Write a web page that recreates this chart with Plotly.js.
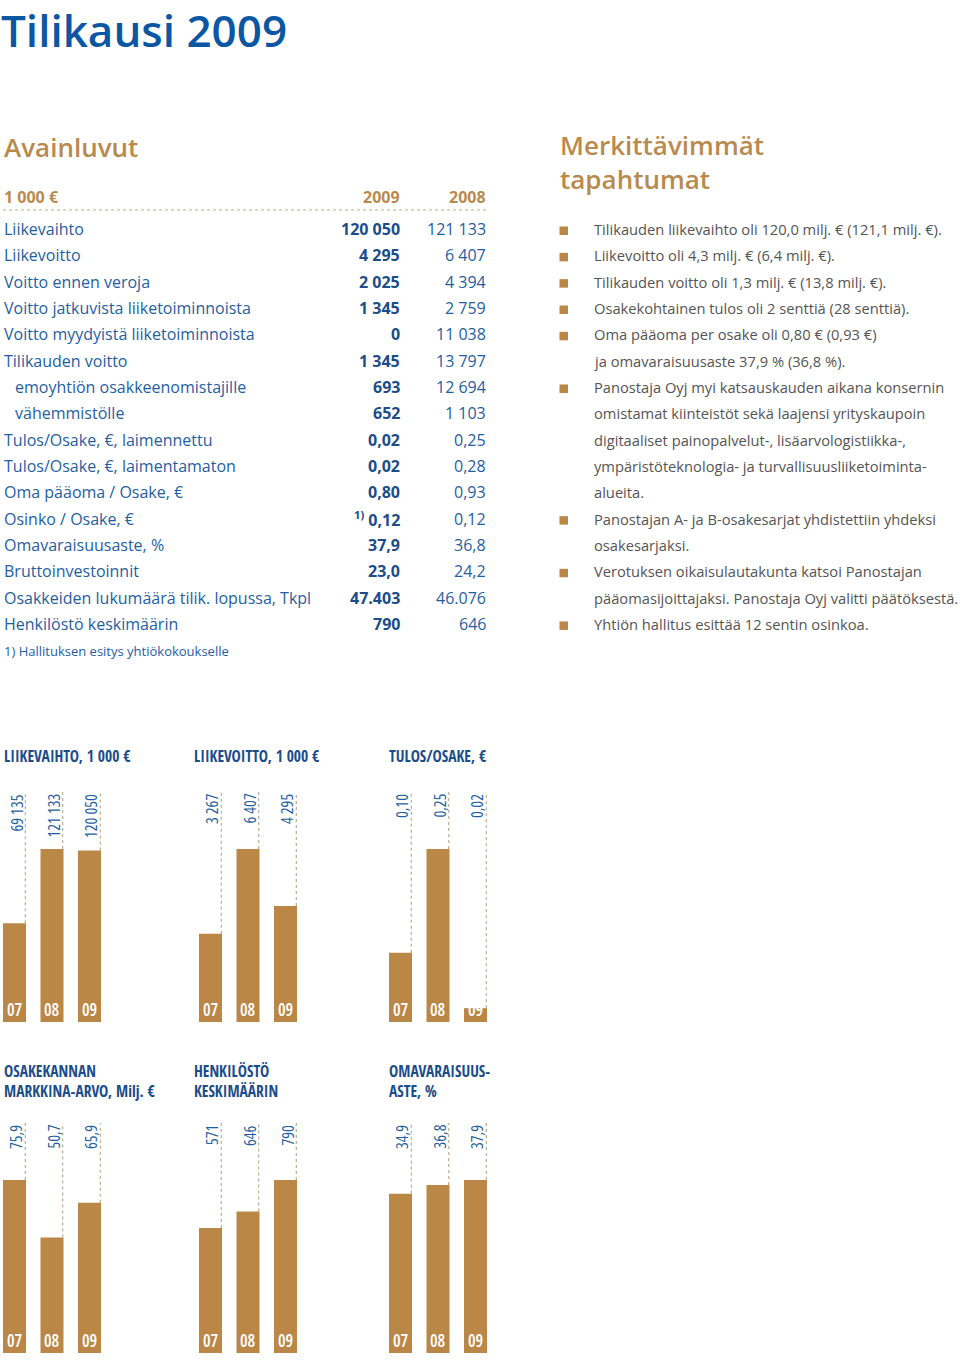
<!DOCTYPE html>
<html><head><meta charset="utf-8">
<script src="https://cdn.plot.ly/plotly-3.0.1.min.js"></script>
<style>
html,body{margin:0;padding:0;background:#fff}#chart{width:960px;height:1361px}
text[style*="Condensed"]{font-stretch:75% !important;}
</style>
</head><body><div id="chart"></div>
<script>
// ---------- DATA ----------
const pageTitle = 'Tilikausi 2009';
const tableHeading = 'Avainluvut';
const eventsHeading = 'Merkittävimmät<br>tapahtumat';
const tableUnit = '1 000 €';
const tableYears = ['2009', '2008'];
const rowLabels = [
  'Liikevaihto', 'Liikevoitto', 'Voitto ennen veroja', 'Voitto jatkuvista liiketoiminnoista',
  'Voitto myydyistä liiketoiminnoista', 'Tilikauden voitto', 'emoyhtiön osakkeenomistajille',
  'vähemmistölle', 'Tulos/Osake, €, laimennettu', 'Tulos/Osake, €, laimentamaton',
  'Oma pääoma / Osake, €', 'Osinko / Osake, €', 'Omavaraisuusaste, %', 'Bruttoinvestoinnit',
  'Osakkeiden lukumäärä tilik. lopussa, Tkpl', 'Henkilöstö keskimäärin'
];
const rowIndent = [0,0,0,0,0,0,1,1,0,0,0,0,0,0,0,0];
const values2009 = ['120 050','4 295','2 025','1 345','0','1 345','693','652','0,02','0,02','0,80','<sup>1)</sup> 0,12','37,9','23,0','47.403','790'];
const values2008 = ['121 133','6 407','4 394','2 759','11 038','13 797','12 694','1 103','0,25','0,28','0,93','0,12','36,8','24,2','46.076','646'];
const footnote = '1) Hallituksen esitys yhtiökokoukselle';
const eventLines = [
  'Tilikauden liikevaihto oli 120,0 milj. € (121,1 milj. €).',
  'Liikevoitto oli 4,3 milj. € (6,4 milj. €).',
  'Tilikauden voitto oli 1,3 milj. € (13,8 milj. €).',
  'Osakekohtainen tulos oli 2 senttiä (28 senttiä).',
  'Oma pääoma per osake oli 0,80 € (0,93 €)',
  'ja omavaraisuusaste 37,9 % (36,8 %).',
  'Panostaja Oyj myi katsauskauden aikana konsernin',
  'omistamat kiinteistöt sekä laajensi yrityskaupoin',
  'digitaaliset painopalvelut-, lisäarvologistiikka-,',
  'ympäristöteknologia- ja turvallisuusliiketoiminta-',
  'alueita.',
  'Panostajan A- ja B-osakesarjat yhdistettiin yhdeksi',
  'osakesarjaksi.',
  'Verotuksen oikaisulautakunta katsoi Panostajan',
  'pääomasijoittajaksi. Panostaja Oyj valitti päätöksestä.',
  'Yhtiön hallitus esittää 12 sentin osinkoa.'
];
const eventBullet = [1,1,1,1,1,0,1,0,0,0,0,1,0,1,0,1];

const years = ['07', '08', '09'];
const chartTitles = [
  'LIIKEVAIHTO, 1 000 €', 'LIIKEVOITTO, 1 000 €', 'TULOS/OSAKE, €',
  'OSAKEKANNAN<br>MARKKINA-ARVO, Milj. €', 'HENKILÖSTÖ<br>KESKIMÄÄRIN', 'OMAVARAISUUS-<br>ASTE, %'
];
const liikevaihto = [69135, 121133, 120050];
const liikevoitto = [3267, 6407, 4295];
const tulosOsake = [0.10, 0.25, 0.02];
const markkinaArvo = [75.9, 50.7, 65.9];
const henkilosto = [571, 646, 790];
const omavaraisuus = [34.9, 36.8, 37.9];
const chartSeries = [liikevaihto, liikevoitto, tulosOsake, markkinaArvo, henkilosto, omavaraisuus];
const chartDecimals = [0, 0, 2, 1, 0, 1];

// ---------- STYLE / LAYOUT ----------
const W = 960, H = 1361;
const px = x => x / W, py = y => 1 - y / H;
const MAIN = "'Open Sans','Noto Sans',sans-serif";
const COND = "'Open Sans Condensed','Open Sans',sans-serif";
const COND_REG = "'Open Sans','Noto Sans','xCondensed',sans-serif";
const BLUE_T = '#0b57a3', BLUE = '#1f60a2', BLUE_D = '#1a4d8a', GOLD = '#bb8747', GOLD_T = '#b98a4e', GRAY = '#555555';

function fmt(v, dec) {
  const s = v.toFixed(dec).split('.');
  const intPart = s[0].replace(/\B(?=(\d{3})+(?!\d))/g, ' ');
  return s.length > 1 ? intPart + ',' + s[1] : intPart;
}

const annotations = [], shapes = [], traces = [];
const layout = {
  width: W, height: H, margin: {l: 0, r: 0, t: 0, b: 0},
  paper_bgcolor: '#fff', plot_bgcolor: 'rgba(0,0,0,0)', showlegend: false,
  annotations, shapes
};
function txt(x, y, text, opts) {
  annotations.push(Object.assign({
    xref: 'paper', yref: 'paper', x: px(x), y: py(y), text, showarrow: false,
    xanchor: 'left', yanchor: 'middle', align: 'left', font: {family: MAIN, size: 16, color: BLUE}
  }, opts || {}));
}

// Page title and headings
txt(1, 0, pageTitle, {yanchor: 'top', borderpad: 0, borderwidth: 0, font: {family: MAIN, size: 44, color: BLUE_T, weight: 600}});
txt(2, 147, tableHeading, {font: {family: MAIN, size: 26, color: GOLD_T, weight: 600}});
txt(558, 162, eventsHeading, {font: {family: MAIN, size: 26, color: GOLD_T, weight: 600}});

// Table header
txt(2, 197, tableUnit, {font: {family: MAIN, size: 16, color: GOLD_T, weight: 700}});
txt(402, 197, tableYears[0], {xanchor: 'right', font: {family: MAIN, size: 16, color: GOLD_T, weight: 700}});
txt(488, 197, tableYears[1], {xanchor: 'right', font: {family: MAIN, size: 16, color: GOLD_T, weight: 700}});
shapes.push({type: 'line', xref: 'paper', yref: 'paper', x0: px(3), x1: px(487), y0: py(210), y1: py(210),
  line: {color: '#c9a577', width: 1, dash: 'dot'}});

const ROW0 = 229, ROWSTEP = 26.33;
rowLabels.forEach((lab, i) => {
  const y = ROW0 + i * ROWSTEP;
  txt(2 + rowIndent[i] * 11, y, lab, {font: {family: MAIN, size: 16, color: BLUE}});
  txt(402, y, values2009[i], {xanchor: 'right', font: {family: MAIN, size: 16, color: BLUE_D, weight: 700}});
  txt(488, y, values2008[i], {xanchor: 'right', font: {family: MAIN, size: 16, color: BLUE}});
});
txt(2, 651, footnote, {font: {family: MAIN, size: 13, color: BLUE}});

eventLines.forEach((t, i) => {
  const y = ROW0 + i * ROWSTEP;
  txt(592, y, t, {font: {family: MAIN, size: 14.7, color: GRAY}});
  if (eventBullet[i]) shapes.push({type: 'rect', xref: 'paper', yref: 'paper',
    x0: px(559.5), x1: px(568), y0: py(y + 6), y1: py(y - 2.5), fillcolor: GOLD, line: {width: 0}});
});

// Small bar charts
const COL_X = [0, 190, 385], FIRST_BAR = [14.5, 20.5, 15.5], PERIOD = 37.5, BAR_W = 23;
const ROW_BOTTOM = [1022, 1353], MAX_H = 173, LABEL_TOP = [792, 1123], TITLE_Y = [756, 1081];
const SPAN_X = 130, SPAN_Y = 250;
const halfW = BAR_W / PERIOD / 2;

chartSeries.forEach((vals, k) => {
  const col = k % 3, row = Math.floor(k / 3);
  const id = k === 0 ? '' : String(k + 1);
  const maxV = Math.max(...vals);
  const r0 = -FIRST_BAR[col] / PERIOD;
  layout['xaxis' + id] = {domain: [px(COL_X[col]), px(COL_X[col] + SPAN_X)], range: [r0, r0 + SPAN_X / PERIOD],
    anchor: 'y' + id, visible: false, fixedrange: true, type: 'category'};
  layout['yaxis' + id] = {domain: [py(ROW_BOTTOM[row]), py(ROW_BOTTOM[row] - SPAN_Y)], range: [0, maxV * SPAN_Y / MAX_H],
    anchor: 'x' + id, visible: false, fixedrange: true};
  traces.push({type: 'bar', x: years, y: vals, xaxis: 'x' + id, yaxis: 'y' + id, width: BAR_W / PERIOD,
    marker: {color: GOLD, line: {width: 0}}, hoverinfo: 'skip'});
  const topVal = maxV * (ROW_BOTTOM[row] - LABEL_TOP[row]) / MAX_H;
  vals.forEach((v, i) => {
    shapes.push({type: 'line', xref: 'x' + id, yref: 'y' + id, x0: i + halfW - 0.02, x1: i + halfW - 0.02, y0: v, y1: topVal,
      line: {color: '#b59a78', width: 1, dash: 'dot'}});
    annotations.push({xref: 'x' + id, yref: 'y' + id, x: i + halfW, y: topVal, text: fmt(v, chartDecimals[k]),
      showarrow: false, textangle: -90, xanchor: 'right', yanchor: 'top', xshift: 3,
      font: {family: COND_REG, size: 16, color: BLUE, weight: 450}});
    annotations.push({xref: 'x' + id, yref: 'y' + id, x: i, y: 0, text: years[i], showarrow: false,
      xanchor: 'center', yanchor: 'bottom', yshift: -1, font: {family: COND_REG, size: 17, color: '#ffffff', weight: 600}});
  });
  txt(COL_X[col] + 2, TITLE_Y[row], chartTitles[k], {font: {family: COND, size: 15.5, color: BLUE_D, weight: 700}});
});

Plotly.newPlot('chart', traces, layout, {displayModeBar: false, staticPlot: true});
</script></body></html>
